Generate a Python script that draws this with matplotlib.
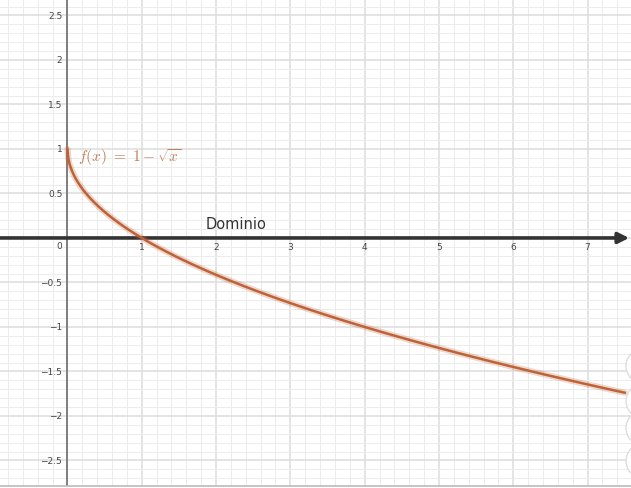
import numpy as np
import matplotlib
matplotlib.use("Agg")
import matplotlib.pyplot as plt
from matplotlib.patches import Circle

# Vista y datos
x_min, x_max = -0.908, 7.585
y_min, y_max = -2.787, 2.685
x_ticks = [1, 2, 3, 4, 5, 6, 7]
y_ticks = [-2.5, -2, -1.5, -1, -0.5, 0.5, 1, 1.5, 2, 2.5]
curve_x_end = 7.5

plt.rcParams['mathtext.fontset'] = 'cm'

fig = plt.figure(figsize=(6.31, 4.89), dpi=100)
ax = fig.add_axes([0, 2 / 489, 1, 487 / 489])
ax.set_xlim(x_min, x_max)
ax.set_ylim(y_min, y_max)

# Cuadricula
ax.set_xticks(np.arange(-0.8, 7.6, 0.2), minor=True)
ax.set_yticks(np.arange(-2.7, 2.7, 0.1), minor=True)
ax.set_xticks(np.arange(0, 8, 1))
ax.set_yticks(np.arange(-2.5, 3.0, 0.5))
ax.grid(which='minor', color='#ececec', lw=0.7)
ax.grid(which='major', color='#dcdcdc', lw=1.1)
ax.tick_params(which='both', length=0, labelbottom=False, labelleft=False)
for s in ['top', 'left', 'right']:
    ax.spines[s].set_visible(False)
ax.spines['bottom'].set_color('#bbbbbb')
ax.spines['bottom'].set_linewidth(1.2)
ax.set_axisbelow(True)

# Ejes
ax.axvline(0, color='#777777', lw=1.3, zorder=2)
ax.annotate('', xy=(7.56, 0), xytext=(x_min, 0),
            arrowprops=dict(arrowstyle='-|>', lw=2.6, color='#333333',
                            mutation_scale=16, shrinkA=0, shrinkB=0),
            zorder=3)

# Etiquetas de los ejes
for t in x_ticks:
    ax.text(t, -0.1, str(t), fontsize=6.5, color='#444444',
            ha='center', va='center')
for t in y_ticks:
    lab = ('%g' % t).replace('-', '\u2212')
    ax.text(-0.07, t, lab, fontsize=6.5, color='#444444',
            ha='right', va='center')
ax.text(-0.07, -0.08, '0', fontsize=6.5, color='#444444', ha='right', va='center')

# Funcion f(x) = 1 - sqrt(x)
xs = np.linspace(0, curve_x_end, 600)
ys = 1 - np.sqrt(xs)
ax.plot(xs, ys, color='#c0673f', lw=4.5, alpha=0.25, solid_capstyle='round', zorder=4)
ax.plot(xs, ys, color='#bf6238', lw=1.8, zorder=5)

ax.text(0.14, 0.92, r'$f(x)\ =\ 1-\sqrt{x}$', fontsize=11, color='#c47e58',
        ha='left', va='center', zorder=6)
ax.text(1.86, 0.16, 'Dominio', fontsize=10.5, color='#333333',
        ha='left', va='center', zorder=6)

# Botones laterales
for cy in [367, 402, 429, 462]:
    fig.patches.append(Circle((643, 489 - cy), 17, transform=None,
                              facecolor='white', edgecolor='#dddddd', lw=1))

fig.savefig('out.png', dpi=100)
